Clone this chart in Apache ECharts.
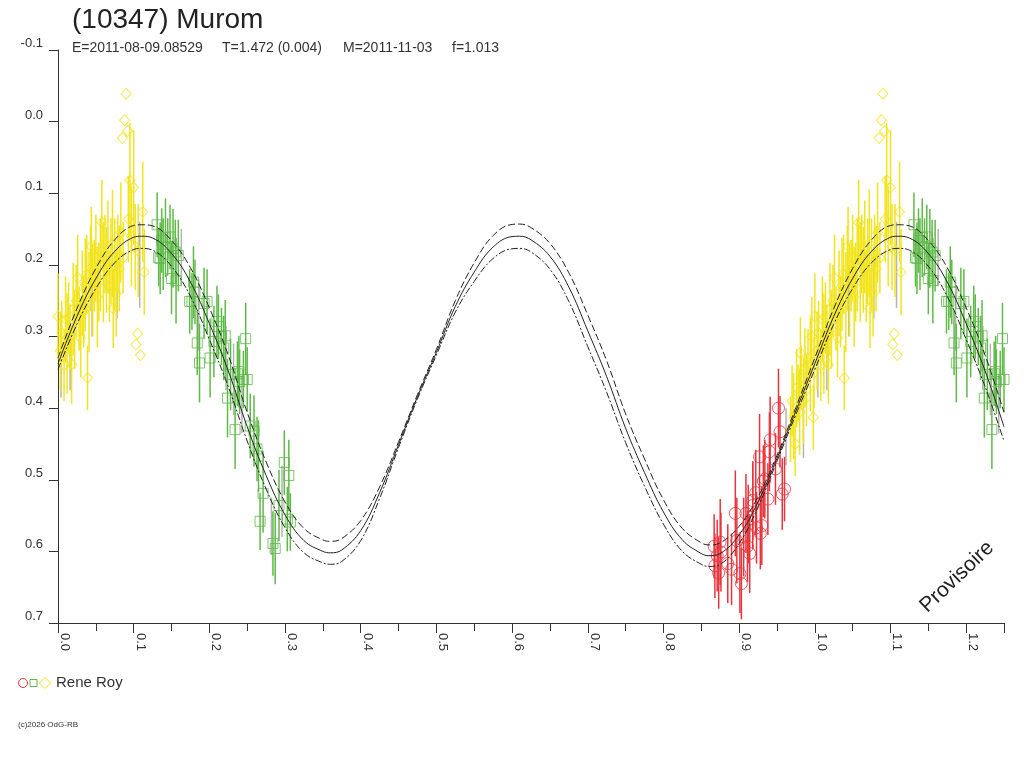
<!DOCTYPE html>
<html lang="fr">
<head>
  <meta charset="UTF-8">
  <title>(10347) Murom</title>
  <script src="https://cdn.jsdelivr.net/npm/echarts@6.0.0/dist/echarts.min.js"></script>
  <style>
    html, body { margin: 0; padding: 0; background: #fff; }
  </style>
</head>
<body>
  <div id="chart" style="width: 1024px; height: 768px;"></div>

  <script>
    // courbe modele (phase, magnitude) + enveloppe
    const curvePhase = [0, 0.025, 0.05, 0.075, 0.1, 0.11, 0.125, 0.15, 0.175, 0.2, 0.225, 0.25, 0.275, 0.3, 0.325, 0.35, 0.36, 0.375, 0.4, 0.425, 0.45, 0.475, 0.5, 0.525, 0.55, 0.575, 0.6, 0.61, 0.625, 0.65, 0.675, 0.7, 0.725, 0.75, 0.775, 0.8, 0.825, 0.85, 0.86, 0.875, 0.9, 0.925, 0.95, 0.975, 1.0, 1.025, 1.05, 1.075, 1.1, 1.11, 1.125, 1.15, 1.175, 1.2, 1.225, 1.25]
    const curveMid = [0.338, 0.272, 0.219, 0.181, 0.1615, 0.160, 0.1625, 0.184, 0.224, 0.282, 0.348, 0.426, 0.494, 0.549, 0.585, 0.600, 0.602, 0.598, 0.571, 0.518, 0.451, 0.384, 0.322, 0.258, 0.210, 0.175, 0.1605, 0.160, 0.165, 0.188, 0.231, 0.292, 0.356, 0.428, 0.490, 0.545, 0.584, 0.603, 0.606, 0.603, 0.577, 0.531, 0.470, 0.404, 0.338, 0.272, 0.219, 0.181, 0.1615, 0.160, 0.1625, 0.184, 0.224, 0.282, 0.348, 0.426]
    const curveUpper = [0.330, 0.261, 0.205, 0.165, 0.145, 0.144, 0.1455, 0.166, 0.204, 0.260, 0.326, 0.406, 0.475, 0.531, 0.568, 0.584, 0.586, 0.582, 0.557, 0.510, 0.447, 0.381, 0.318, 0.250, 0.197, 0.159, 0.1435, 0.143, 0.148, 0.170, 0.211, 0.270, 0.334, 0.408, 0.471, 0.528, 0.568, 0.588, 0.591, 0.588, 0.565, 0.524, 0.466, 0.399, 0.330, 0.261, 0.205, 0.165, 0.145, 0.144, 0.1455, 0.166, 0.204, 0.260, 0.326, 0.406]
    const curveLower = [0.346, 0.283, 0.233, 0.197, 0.1785, 0.177, 0.1795, 0.202, 0.244, 0.304, 0.370, 0.446, 0.513, 0.567, 0.602, 0.616, 0.618, 0.614, 0.585, 0.526, 0.455, 0.387, 0.326, 0.266, 0.223, 0.191, 0.1775, 0.177, 0.182, 0.206, 0.251, 0.314, 0.378, 0.448, 0.509, 0.562, 0.600, 0.618, 0.621, 0.618, 0.589, 0.538, 0.474, 0.409, 0.346, 0.283, 0.233, 0.197, 0.1785, 0.177, 0.1795, 0.202, 0.244, 0.304, 0.370, 0.446]

    // mesures [phase, mag, erreur]
    const yellowPts = [
      [0.968, 0.430, 0.045], [0.970, 0.390, 0.050], [0.972, 0.411, 0.060], [0.974, 0.450, 0.045],
      [0.976, 0.372, 0.055], [0.978, 0.379, 0.040], [0.980, 0.405, 0.060], [0.981, 0.323, 0.050],
      [0.982, 0.358, 0.045], [0.985, 0.390, 0.060], [0.987, 0.344, 0.055], [0.989, 0.375, 0.050],
      [0.991, 0.330, 0.040], [0.994, 0.339, 0.065], [0.996, 0.300, 0.055], [0.998, 0.413, 0.045],
      [0.999, 0.350, 0.050], [0.000, 0.272, 0.060], [0.003, 0.320, 0.055], [0.005, 0.295, 0.045],
      [0.008, 0.340, 0.050], [0.010, 0.276, 0.060], [0.012, 0.310, 0.070], [0.014, 0.274, 0.050],
      [0.016, 0.300, 0.045], [0.018, 0.339, 0.055], [0.020, 0.262, 0.065], [0.022, 0.290, 0.055],
      [0.024, 0.250, 0.050], [0.026, 0.218, 0.060], [0.028, 0.275, 0.045], [0.030, 0.302, 0.055],
      [0.032, 0.240, 0.060], [0.034, 0.265, 0.050], [0.036, 0.228, 0.065], [0.038, 0.213, 0.055],
      [0.039, 0.358, 0.045], [0.041, 0.252, 0.070], [0.043, 0.205, 0.060], [0.044, 0.174, 0.055],
      [0.046, 0.235, 0.065], [0.048, 0.215, 0.050], [0.050, 0.190, 0.060], [0.052, 0.245, 0.070],
      [0.054, 0.224, 0.055], [0.056, 0.200, 0.065], [0.058, 0.141, 0.060], [0.060, 0.210, 0.070],
      [0.062, 0.185, 0.055], [0.064, 0.207, 0.060], [0.066, 0.175, 0.065], [0.068, 0.230, 0.050],
      [0.070, 0.195, 0.060], [0.072, 0.170, 0.075], [0.073, 0.261, 0.055], [0.075, 0.200, 0.065],
      [0.077, 0.240, 0.060], [0.079, 0.185, 0.055], [0.081, 0.205, 0.060], [0.083, 0.155, 0.070],
      [0.086, 0.190, 0.050], [0.093, 0.136, 0.060], [0.095, 0.082, 0.080], [0.097, 0.160, 0.070],
      [0.100, 0.092, 0.080], [0.102, 0.175, 0.060], [0.106, 0.180, 0.065], [0.112, 0.126, 0.070],
      [0.114, 0.210, 0.060], [0.103, 0.311, 0], [0.105, 0.296, 0], [0.109, 0.326, 0],
      [0.090, -0.039, 0], [0.088, -0.002, 0], [0.092, 0.013, 0], [0.085, 0.023, 0]
    ]
    const greenPts = [
      [0.131, 0.144, 0.045], [0.133, 0.190, 0.040], [0.135, 0.191, 0.050], [0.137, 0.166, 0.045],
      [0.139, 0.185, 0.050], [0.142, 0.162, 0.055], [0.145, 0.175, 0.040], [0.148, 0.161, 0.045],
      [0.150, 0.219, 0.050], [0.152, 0.177, 0.055], [0.155, 0.182, 0.045], [0.156, 0.222, 0.060],
      [0.159, 0.187, 0.050], [0.174, 0.251, 0.045], [0.177, 0.251, 0.040], [0.179, 0.224, 0.050],
      [0.181, 0.238, 0.045], [0.184, 0.309, 0.045], [0.187, 0.337, 0.055], [0.193, 0.254, 0.050],
      [0.197, 0.251, 0.045], [0.201, 0.330, 0.055], [0.206, 0.307, 0.050], [0.210, 0.279, 0.050],
      [0.212, 0.286, 0.045], [0.216, 0.300, 0.040], [0.219, 0.316, 0.045], [0.221, 0.299, 0.050],
      [0.224, 0.386, 0.055], [0.228, 0.353, 0.050], [0.234, 0.430, 0.055], [0.237, 0.352, 0.045],
      [0.239, 0.349, 0.050], [0.240, 0.363, 0.045], [0.245, 0.360, 0.040], [0.248, 0.303, 0.050],
      [0.250, 0.360, 0.045], [0.254, 0.425, 0.045], [0.259, 0.432, 0.050], [0.263, 0.457, 0.045],
      [0.265, 0.467, 0.050], [0.267, 0.558, 0.040], [0.271, 0.519, 0.055], [0.284, 0.589, 0.045],
      [0.287, 0.596, 0.050], [0.292, 0.536, 0.050], [0.299, 0.476, 0.045], [0.303, 0.555, 0.045],
      [0.305, 0.494, 0.050], [0.307, 0.559, 0.040]
    ]
    const redPts = [
      [0.952, 0.400, 0.055], [0.954, 0.433, 0.050], [0.941, 0.444, 0.060], [0.940, 0.461, 0.055],
      [0.927, 0.468, 0.060], [0.948, 0.485, 0.050], [0.934, 0.499, 0.055], [0.932, 0.502, 0.050],
      [0.960, 0.513, 0.045], [0.957, 0.520, 0.050], [0.922, 0.518, 0.060], [0.918, 0.529, 0.055],
      [0.938, 0.527, 0.050], [0.895, 0.547, 0.060], [0.909, 0.547, 0.055], [0.918, 0.536, 0.060],
      [0.912, 0.562, 0.055], [0.923, 0.567, 0.050], [0.930, 0.564, 0.055], [0.928, 0.575, 0.050],
      [0.897, 0.585, 0.060], [0.906, 0.580, 0.055], [0.911, 0.593, 0.050], [0.914, 0.603, 0.055],
      [0.875, 0.587, 0.060], [0.867, 0.593, 0.045], [0.876, 0.601, 0.055], [0.871, 0.606, 0.050],
      [0.885, 0.617, 0.055], [0.890, 0.625, 0.050], [0.873, 0.630, 0.050], [0.901, 0.631, 0.055],
      [0.903, 0.645, 0.050], [0.868, 0.620, 0.045]
    ]
    // barres d'erreur grises (sans symbole)
    const grayBars = [
      [0.004, 0.345, 0.040], [0.016, 0.330, 0.045], [0.045, 0.250, 0.050], [0.078, 0.225, 0.050],
      [0.108, 0.200, 0.060], [0.163, 0.190, 0.040], [0.186, 0.270, 0.050], [0.222, 0.330, 0.045],
      [0.232, 0.360, 0.050], [0.243, 0.395, 0.040], [0.282, 0.565, 0.040], [0.296, 0.530, 0.050],
      [0.985, 0.420, 0.050], [0.962, 0.440, 0.040]
    ]
    const xTicks = [0, 0.1, 0.2, 0.3, 0.4, 0.5, 0.6, 0.7, 0.8, 0.9, 1.0, 1.1, 1.2]

    const YELLOW = '#f2e41c'
    const GREEN = '#5fba48'
    const RED = '#e8343c'
    const GRAY = '#b4b4b4'
    const FONT = '"Liberation Sans", Arial, sans-serif'

    // phase repliee : ce qui est avant 0.25 est redessine a +1
    function fold(pts) {
      const out = pts.slice()
      pts.forEach(p => { if (p[0] + 1 <= 1.25) out.push([p[0] + 1, p[1], p[2]]) })
      return out
    }

    function errBars(name, pts, color) {
      return {
        name: name,
        type: 'custom',
        data: fold(pts),
        encode: { x: 0, y: 1 },
        z: 2,
        silent: true,
        renderItem: function (params, api) {
          const e = api.value(2)
          if (!e) return null
          const a = api.coord([api.value(0), api.value(1) - e])
          const b = api.coord([api.value(0), api.value(1) + e])
          return {
            type: 'line',
            shape: { x1: a[0], y1: a[1], x2: b[0], y2: b[1] },
            style: { stroke: color, lineWidth: 1.5 }
          }
        }
      }
    }

    function marks(name, pts, color, symbol, size) {
      return {
        name: name,
        type: 'scatter',
        data: fold(pts).map(p => [p[0], p[1]]),
        symbol: symbol,
        symbolSize: size,
        z: 3,
        itemStyle: { color: 'rgba(0,0,0,0)', borderColor: color, borderWidth: 1 }
      }
    }

    function curve(vals, dash) {
      return {
        type: 'line',
        data: curvePhase.map((p, i) => [p, vals[i]]),
        showSymbol: false,
        smooth: 0.4,
        z: 4,
        silent: true,
        lineStyle: { color: '#222', width: 1, type: dash }
      }
    }

    const chart = echarts.init(document.getElementById('chart'))
    chart.setOption({
      backgroundColor: '#fff',
      animation: false,
      grid: { left: 58, right: 20, top: 50, bottom: 145 },
      xAxis: {
        type: 'value',
        position: 'bottom',
        min: 0,
        max: 1.25,
        interval: 0.1,
        axisLine: { onZero: false, lineStyle: { color: '#333', width: 1 } },
        axisTick: { length: 10, lineStyle: { color: '#333' } },
        minorTick: { show: true, splitNumber: 2, length: 8, lineStyle: { color: '#333' } },
        splitLine: { show: false },
        axisLabel: {
          rotate: -90,
          margin: 10,
          verticalAlign: 'bottom',
          color: '#333',
          fontFamily: FONT,
          fontSize: 13,
          showMaxLabel: false,
          formatter: v => xTicks.some(t => Math.abs(t - v) < 1e-6) ? v.toFixed(1) : ''
        }
      },
      yAxis: {
        type: 'value',
        inverse: true,
        min: -0.1,
        max: 0.7,
        interval: 0.1,
        axisLine: { show: true, onZero: false, lineStyle: { color: '#333', width: 1 } },
        axisTick: { show: true, length: 9, lineStyle: { color: '#333' } },
        splitLine: { show: false },
        axisLabel: {
          margin: 15,
          verticalAlign: 'bottom',
          color: '#333',
          fontFamily: FONT,
          fontSize: 13,
          formatter: v => v.toFixed(1)
        }
      },
      series: [
        errBars('gris', grayBars, GRAY),
        errBars('jaune-err', yellowPts, YELLOW),
        errBars('vert-err', greenPts, GREEN),
        errBars('rouge-err', redPts, RED),
        marks('jaune', yellowPts, YELLOW, 'diamond', [10, 11]),
        marks('vert', greenPts, GREEN, 'rect', 10),
        marks('rouge', redPts, RED, 'circle', 12),
        curve(curveUpper, [7, 3]),
        curve(curveMid, 'solid'),
        curve(curveLower, [7, 2, 2, 2])
      ],
      graphic: [
        { type: 'text', x: 72, y: 20, style: { text: '(10347) Murom', font: '28px ' + FONT, fill: '#222', verticalAlign: 'middle' } },
        { type: 'text', x: 72, y: 48, style: { text: 'E=2011-08-09.08529', font: '14px ' + FONT, fill: '#333', verticalAlign: 'middle' } },
        { type: 'text', x: 222, y: 48, style: { text: 'T=1.472 (0.004)', font: '14px ' + FONT, fill: '#333', verticalAlign: 'middle' } },
        { type: 'text', x: 343, y: 48, style: { text: 'M=2011-11-03', font: '14px ' + FONT, fill: '#333', verticalAlign: 'middle' } },
        { type: 'text', x: 452, y: 48, style: { text: 'f=1.013', font: '14px ' + FONT, fill: '#333', verticalAlign: 'middle' } },
        { type: 'text', x: 957, y: 577, rotation: 0.76, style: { text: 'Provisoire', font: '21px ' + FONT, fill: '#222', align: 'center', verticalAlign: 'middle' } },
        // legende observateur
        { type: 'circle', shape: { cx: 23, cy: 683, r: 4.5 }, style: { fill: 'none', stroke: RED, lineWidth: 1 } },
        { type: 'rect', shape: { x: 30, y: 679.5, width: 7, height: 7 }, style: { fill: 'none', stroke: GREEN, lineWidth: 1 } },
        { type: 'polygon', shape: { points: [[45, 677.5], [50.5, 683], [45, 688.5], [39.5, 683]] }, style: { fill: 'none', stroke: YELLOW, lineWidth: 1 } },
        { type: 'text', x: 56, y: 683, style: { text: 'Rene Roy', font: '15px ' + FONT, fill: '#333', verticalAlign: 'middle' } },
        { type: 'text', x: 18, y: 725, style: { text: '(c)2026 OdG-RB', font: '8px ' + FONT, fill: '#333', verticalAlign: 'middle' } }
      ]
    })
  </script>
</body>
</html>
